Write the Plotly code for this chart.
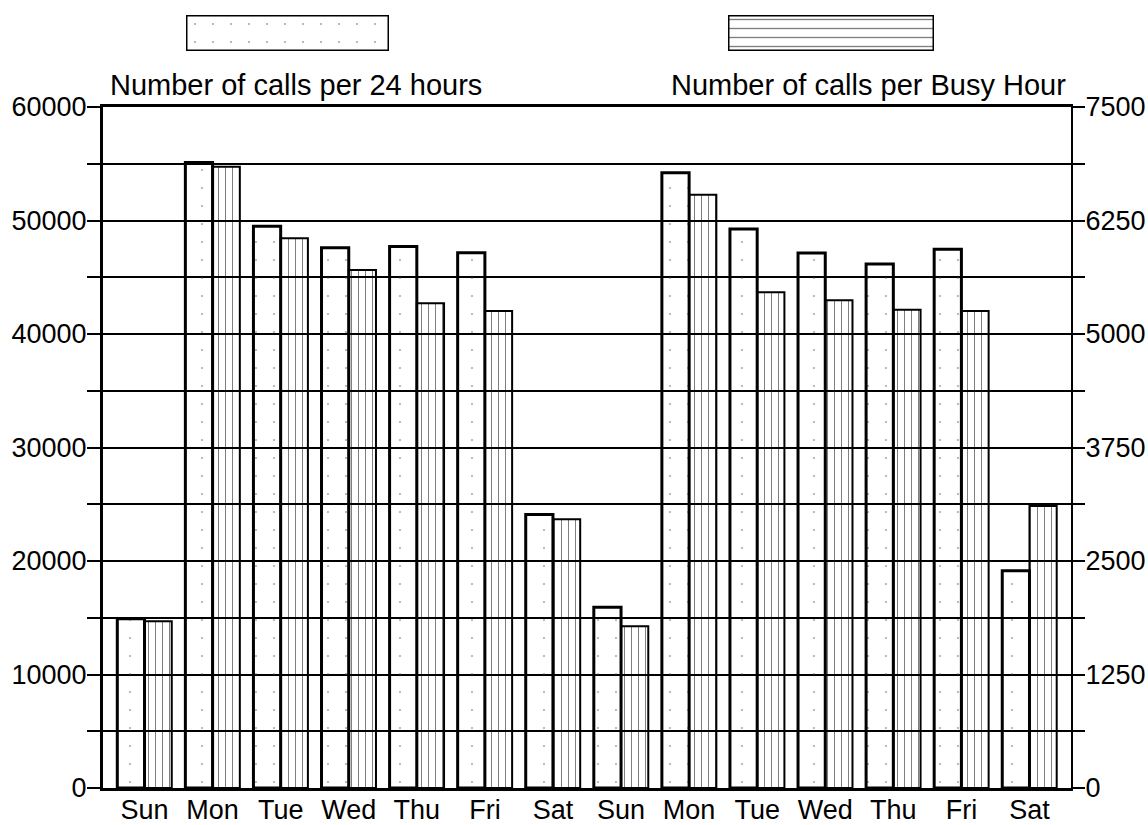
import plotly.graph_objects as go

days = ["Sun", "Mon", "Tue", "Wed", "Thu", "Fri", "Sat",
        "Sun", "Mon", "Tue", "Wed", "Thu", "Fri", "Sat"]
calls_24h = [14920, 55100, 49500, 47600, 47700, 47160, 24100,
             15920, 54210, 49250, 47140, 46170, 47460, 19150]
calls_busy_hour = [1836, 6843, 6054, 5705, 5338, 5254, 2959,
                   1781, 6534, 5459, 5371, 5268, 5254, 3106]
label_24h = "Number of calls per 24 hours"
label_bh = "Number of calls per Busy Hour"

x_pos = list(range(len(days)))

W, H = 1148, 825
FONT = "Liberation Sans"
dot_pattern = dict(shape=".", size=18, solidity=0.012, fgcolor="#555555",
                   bgcolor="rgba(0,0,0,0)")
vline_pattern = dict(shape="|", size=7, solidity=0.15, fgcolor="black",
                     bgcolor="rgba(0,0,0,0)")
hline_pattern = dict(shape="-", size=9, solidity=0.15, fgcolor="black",
                     bgcolor="rgba(0,0,0,0)")

fig = go.Figure()
fig.add_trace(go.Bar(
    x=x_pos, y=calls_24h, width=0.4, offset=-0.4, yaxis="y", xaxis="x",
    marker=dict(color="#555555", line=dict(color="black", width=3),
                pattern=dot_pattern),
    name=label_24h, cliponaxis=False))
fig.add_trace(go.Bar(
    x=x_pos, y=calls_busy_hour, width=0.4, offset=0.0, yaxis="y2", xaxis="x",
    marker=dict(color="black", line=dict(color="black", width=2),
                pattern=vline_pattern),
    name=label_bh, cliponaxis=False))

# legend swatches
fig.add_trace(go.Bar(
    x=[0], y=[1], width=1, xaxis="x3", yaxis="y3",
    marker=dict(color="#555555", line=dict(color="black", width=3),
                pattern=dot_pattern),
    cliponaxis=False, hoverinfo="skip"))
fig.add_trace(go.Bar(
    x=[0], y=[1], width=1, xaxis="x4", yaxis="y4",
    marker=dict(color="black", line=dict(color="black", width=3),
                pattern=hline_pattern),
    cliponaxis=False, hoverinfo="skip"))

pw = W
ph = H - 37
x0, x1 = 103 / pw, 1071 / pw
ytop = (ph - 107) / ph

tickfont = dict(family=FONT, size=27, color="black")

fig.update_layout(
    width=W, height=H,
    margin=dict(l=0, r=0, t=0, b=37, pad=0, autoexpand=False),
    paper_bgcolor="white", plot_bgcolor="white",
    showlegend=False, barmode="overlay",
    font=dict(family=FONT, color="black"),
    xaxis=dict(domain=[x0, x1], range=[-0.61, 13.61],
               tickmode="array", tickvals=x_pos, ticktext=days,
               tickfont=tickfont, ticks="", showgrid=False, zeroline=False,
               showline=True, mirror=True, linewidth=3, linecolor="black",
               ticklabelstandoff=-4, fixedrange=True),
    yaxis=dict(domain=[0, ytop], range=[0, 60000], tick0=0, dtick=10000,
               tickformat="d", tickfont=tickfont, ticklabelstandoff=-5,
               ticks="outside", ticklen=13, tickwidth=2, tickcolor="black",
               showgrid=True, gridcolor="black", gridwidth=2,
               showline=True, linewidth=3, linecolor="black", zeroline=False,
               minor=dict(dtick=5000, tick0=0, ticks="outside", ticklen=13,
                          tickwidth=2, tickcolor="black", showgrid=True,
                          gridcolor="black", gridwidth=2)),
    yaxis2=dict(overlaying="y", side="right", anchor="x",
                range=[0, 7500], tick0=0, dtick=1250, tickformat="d",
                tickfont=tickfont, ticklabelstandoff=-5,
                ticks="outside", ticklen=12, tickwidth=2,
                tickcolor="black", showgrid=False, zeroline=False,
                showline=True, linewidth=2, linecolor="black",
                minor=dict(dtick=625, tick0=0, ticks="outside", ticklen=12,
                           tickwidth=2, tickcolor="black")),
    xaxis3=dict(domain=[186 / pw, 389 / pw], range=[-0.5, 0.5], visible=False,
                anchor="y3"),
    yaxis3=dict(domain=[(ph - 51) / ph, (ph - 15) / ph], range=[0, 1],
                visible=False, anchor="x3"),
    xaxis4=dict(domain=[728 / pw, 934 / pw], range=[-0.5, 0.5], visible=False,
                anchor="y4"),
    yaxis4=dict(domain=[(ph - 51) / ph, (ph - 15) / ph], range=[0, 1],
                visible=False, anchor="x4"),
    annotations=[
        dict(text=label_24h, xref="paper", yref="paper",
             x=108 / pw, y=(ph - 85) / ph, xanchor="left", yanchor="middle",
             showarrow=False, font=dict(family=FONT, size=29, color="black")),
        dict(text=label_bh, xref="paper", yref="paper",
             x=1068 / pw, y=(ph - 85) / ph, xanchor="right", yanchor="middle",
             showarrow=False, font=dict(family=FONT, size=29, color="black")),
    ],
)

fig.write_html("out.html",
               config={"displayModeBar": False},
               post_script="document.body.style.margin='0';"
                           "document.body.style.overflow='hidden';")
